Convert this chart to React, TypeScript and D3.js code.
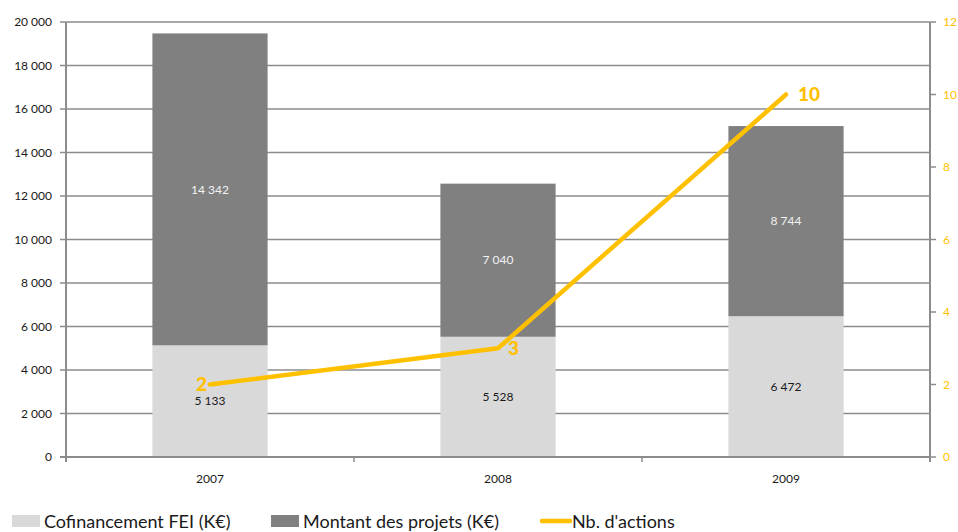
import React, { useEffect, useRef } from "react"
import * as d3 from "d3"

const years = ["2007", "2008", "2009"]
const cofinancement = [5133, 5528, 6472]
const montant = [14342, 7040, 8744]
const nbActions = [2, 3, 10]
const leftTicks = [0, 2000, 4000, 6000, 8000, 10000, 12000, 14000, 16000, 18000, 20000]
const rightTicks = [0, 2, 4, 6, 8, 10, 12]

const W = 958
const H = 532
const FONT = "Lato, 'Open Sans', sans-serif"
const ORANGE = "#FFC000"
const GRID = "#8c8c8c"

const fmt = (v: number) => d3.format(",")(v).replace(/,/g, "\u00a0")

export default function App() {
  const ref = useRef<SVGSVGElement>(null)

  useEffect(() => {
    const svg = d3.select(ref.current)
    svg.selectAll("*").remove()

    const left = 66
    const right = 930
    const top = 22
    const bottom = 457

    const x = d3.scaleBand().domain(years).range([left, right]).paddingInner(0.6).paddingOuter(0.3)
    const y = d3.scaleLinear().domain([0, 20000]).range([bottom, top])
    const y2 = d3.scaleLinear().domain([0, 12]).range([bottom, top])
    const cx = (d: string) => (x(d) as number) + x.bandwidth() / 2

    // gridlines
    svg.append("g")
      .selectAll("line")
      .data(leftTicks.filter(t => t > 0))
      .enter()
      .append("line")
      .attr("x1", left)
      .attr("x2", right)
      .attr("y1", d => y(d))
      .attr("y2", d => y(d))
      .attr("stroke", GRID)
      .attr("stroke-width", 1.5)

    // bars
    const g = svg.append("g")
    years.forEach((yr, i) => {
      const base = cofinancement[i]
      const total = base + montant[i]
      g.append("rect")
        .attr("x", x(yr) as number)
        .attr("width", x.bandwidth())
        .attr("y", y(base))
        .attr("height", y(0) - y(base))
        .attr("fill", "#d9d9d9")
      g.append("rect")
        .attr("x", x(yr) as number)
        .attr("width", x.bandwidth())
        .attr("y", y(total))
        .attr("height", y(base) - y(total))
        .attr("fill", "#808080")
      g.append("text")
        .attr("x", cx(yr))
        .attr("y", y(base / 2))
        .attr("dy", "0.35em")
        .attr("text-anchor", "middle")
        .attr("font-size", 12)
        .attr("font-family", FONT)
        .attr("fill", "#1a1a1a")
        .text(fmt(base))
      g.append("text")
        .attr("x", cx(yr))
        .attr("y", y((base + total) / 2))
        .attr("dy", "0.35em")
        .attr("text-anchor", "middle")
        .attr("font-size", 12)
        .attr("font-family", FONT)
        .attr("fill", "#f2f2f2")
        .text(fmt(montant[i]))
    })

    // axes lines
    svg.append("line")
      .attr("x1", left).attr("x2", left).attr("y1", top).attr("y2", bottom + 5)
      .attr("stroke", GRID).attr("stroke-width", 2)
    svg.append("line")
      .attr("x1", right).attr("x2", right).attr("y1", top).attr("y2", bottom + 5)
      .attr("stroke", GRID).attr("stroke-width", 2)
    svg.append("line")
      .attr("x1", left - 6).attr("x2", right).attr("y1", bottom).attr("y2", bottom)
      .attr("stroke", GRID).attr("stroke-width", 2)

    // left ticks
    const lt = svg.append("g")
    leftTicks.forEach(t => {
      lt.append("line")
        .attr("x1", left - 6).attr("x2", left).attr("y1", y(t)).attr("y2", y(t))
        .attr("stroke", GRID).attr("stroke-width", 1.5)
      lt.append("text")
        .attr("x", 52)
        .attr("y", y(t))
        .attr("dy", "0.35em")
        .attr("text-anchor", "end")
        .attr("font-size", 12)
        .attr("font-family", FONT)
        .attr("fill", "#1a1a1a")
        .text(fmt(t))
    })

    // right ticks
    const rt = svg.append("g")
    rightTicks.forEach(t => {
      rt.append("line")
        .attr("x1", right).attr("x2", right + 6).attr("y1", y2(t)).attr("y2", y2(t))
        .attr("stroke", GRID).attr("stroke-width", 1.5)
      rt.append("text")
        .attr("x", right + 13)
        .attr("y", y2(t))
        .attr("dy", "0.35em")
        .attr("font-size", 12)
        .attr("font-family", FONT)
        .attr("fill", ORANGE)
        .text(t)
    })

    // x ticks at category boundaries
    const bounds = [left, ...years.slice(1).map(d => (x(d) as number) - (x.step() - x.bandwidth()) / 2), right]
    svg.append("g")
      .selectAll("line")
      .data(bounds)
      .enter()
      .append("line")
      .attr("x1", d => d).attr("x2", d => d)
      .attr("y1", bottom).attr("y2", bottom + 5)
      .attr("stroke", GRID).attr("stroke-width", 1.5)

    svg.append("g")
      .selectAll("text")
      .data(years)
      .enter()
      .append("text")
      .attr("x", d => cx(d))
      .attr("y", 483)
      .attr("text-anchor", "middle")
      .attr("font-size", 12)
      .attr("font-family", FONT)
      .attr("fill", "#1a1a1a")
      .text(d => d)

    // line
    const line = d3.line<number>()
      .x((_, i) => cx(years[i]))
      .y(d => y2(d))
    svg.append("path")
      .datum(nbActions)
      .attr("d", line)
      .attr("fill", "none")
      .attr("stroke", ORANGE)
      .attr("stroke-width", 4.5)
      .attr("stroke-linecap", "round")
      .attr("stroke-linejoin", "round")

    const anchors = ["end", "start", "start"]
    const dxs = [-3, 10, 12]
    svg.append("g")
      .selectAll("text")
      .data(nbActions)
      .enter()
      .append("text")
      .attr("x", (_, i) => cx(years[i]) + dxs[i])
      .attr("y", d => y2(d))
      .attr("dy", "0.35em")
      .attr("text-anchor", (_, i) => anchors[i])
      .attr("font-size", 19)
      .attr("font-weight", 900)
      .attr("font-family", FONT)
      .attr("fill", ORANGE)
      .text(d => d)

    // legend
    const legend = svg.append("g").attr("font-family", FONT).attr("font-size", 18).attr("fill", "#1a1a1a")
    legend.append("rect").attr("x", 12).attr("y", 515).attr("width", 28).attr("height", 12).attr("fill", "#d9d9d9")
    legend.append("text").attr("x", 44).attr("y", 528).text("Cofinancement FEI (K€)")
    legend.append("rect").attr("x", 271).attr("y", 515).attr("width", 28).attr("height", 12).attr("fill", "#808080")
    legend.append("text").attr("x", 303).attr("y", 528).text("Montant des projets (K€)")
    legend.append("line").attr("x1", 542).attr("x2", 570).attr("y1", 521).attr("y2", 521)
      .attr("stroke", ORANGE).attr("stroke-width", 4.5).attr("stroke-linecap", "round")
    legend.append("text").attr("x", 572).attr("y", 528).text("Nb. d'actions")
  }, [])

  return (
    <svg
      ref={ref}
      width={W}
      height={H}
      style={{ position: "absolute", left: 0, top: 0, background: "#fff" }}
    />
  )
}
